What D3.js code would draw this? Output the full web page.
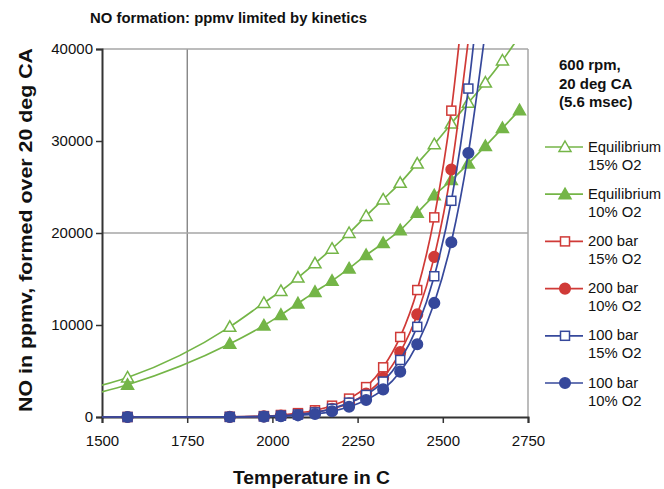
<!DOCTYPE html>
<html><head><meta charset="utf-8">
<script src="https://cdn.jsdelivr.net/npm/d3@7"></script>
<style>
body{margin:0;background:#fff;}
svg{font-family:"Liberation Sans",Arial,Helvetica,sans-serif;}
</style></head>
<body><svg id="c" width="664" height="489"></svg>
<script>
const temps = [1475,1575,1875,1975,2025,2075,2125,2175,2225,2275,2325,2375,2425,2475,2525,2575,2625,2675,2725];
const eq15 = [3200,4300,9800,12400,13700,15150,16700,18300,20000,21850,23650,25450,27550,29650,31900,34150,36350,38750,41400];
const eq10 = [2480,3500,7950,9950,11100,12350,13600,14800,16150,17600,18900,20300,22200,24100,25750,27550,29450,31400,33350];
const b200_15 = [0,0,20,100,220,420,730,1230,2000,3250,5400,8700,13800,21700,33300,50500,null,null,null];
const b200_10 = [0,0,10,70,150,290,520,900,1500,2550,4250,7050,11150,17400,26900,41000,null,null,null];
const b100_15 = [0,0,10,60,140,270,500,900,1560,2400,3850,6200,9800,15300,23500,35700,53000,null,null];
const b100_10 = [0,0,5,40,90,180,330,620,1120,1850,3000,4930,7900,12400,19000,28700,42000,null,null];
const xTicks = [1500,1750,2000,2250,2500,2750];
const yTicks = [0,10000,20000,30000,40000];
const seriesNames = [["Equilibrium","15% O2"],["Equilibrium","10% O2"],["200 bar","15% O2"],["200 bar","10% O2"],["100 bar","15% O2"],["100 bar","10% O2"]];
const noteLines = ["600 rpm,","20 deg CA","(5.6 msec)"];

const green="#74b547", red="#d03a37", blue="#36489b";
const series = [
  {vals:eq15, color:green, shape:"tri", filled:false},
  {vals:eq10, color:green, shape:"tri", filled:true},
  {vals:b200_15, color:red, shape:"sq", filled:false},
  {vals:b200_10, color:red, shape:"circ", filled:true},
  {vals:b100_15, color:blue, shape:"sq", filled:false},
  {vals:b100_10, color:blue, shape:"circ", filled:true}
];

const svg = d3.select("#c");
const L=102,R=528,T=49,B=417;
const x = d3.scaleLinear().domain([1500,2750]).range([L,R]);
const y = d3.scaleLinear().domain([0,40000]).range([B,T]);

svg.append("defs").append("clipPath").attr("id","clip")
  .append("rect").attr("x",L).attr("y",44).attr("width",R-L+10).attr("height",B-44+12);

// gridlines
svg.append("line").attr("x1",x(1750)).attr("x2",x(1750)).attr("y1",T).attr("y2",B).attr("stroke","#555").attr("stroke-width",1);
[20000,40000].forEach(v=>svg.append("line").attr("x1",L).attr("x2",R).attr("y1",y(v)).attr("y2",y(v)).attr("stroke","#a6a6a6").attr("stroke-width",1.5));
svg.append("line").attr("x1",R).attr("x2",R).attr("y1",T).attr("y2",B).attr("stroke","#a6a6a6").attr("stroke-width",1.5);

// axes
const ya = svg.append("g").attr("transform",`translate(${L},0)`)
  .call(d3.axisLeft(y).tickValues(yTicks).tickFormat(d3.format("d")).tickSize(6).tickPadding(3));
const xa = svg.append("g").attr("transform",`translate(0,${B})`)
  .call(d3.axisBottom(x).tickValues(xTicks).tickFormat(d3.format("d")).tickSize(6).tickPadding(12));
[ya,xa].forEach(g=>{
  g.select(".domain").attr("stroke","#333").attr("stroke-width",2);
  g.selectAll(".tick line").attr("stroke","#333").attr("stroke-width",1.5);
  g.selectAll("text").attr("font-size",15).attr("fill","#111").attr("font-family","Liberation Sans, Arial, sans-serif");
});

const plot = svg.append("g").attr("clip-path","url(#clip)");
const line = d3.line().defined(d=>d[1]!=null).x(d=>x(d[0])).y(d=>y(d[1])).curve(d3.curveMonotoneX);

function marker(g, shape, filled, color, cx, cy){
  let m;
  if(shape==="tri"){
    const s=6;
    m=g.append("path").attr("d",`M${cx},${cy-s}L${cx+s},${cy+s*0.75}L${cx-s},${cy+s*0.75}Z`);
  } else if(shape==="sq"){
    const s=4.5;
    m=g.append("rect").attr("x",cx-s).attr("y",cy-s).attr("width",2*s).attr("height",2*s);
  } else {
    m=g.append("circle").attr("cx",cx).attr("cy",cy).attr("r",5.3);
  }
  m.attr("fill",filled?color:"#fff").attr("stroke",color).attr("stroke-width",1.5);
}

series.forEach(s=>{
  const pts = temps.map((t,i)=>[t,s.vals[i]]).filter(d=>d[1]!=null);
  plot.append("path").datum(pts).attr("d",line).attr("fill","none").attr("stroke",s.color).attr("stroke-width",1.7);
  const mg = plot.append("g");
  pts.forEach(p=>{ if(y(p[1])>=44) marker(mg,s.shape,s.filled,s.color,x(p[0]),y(p[1])); });
});

// titles
svg.append("text").attr("x",228.5).attr("y",22.5).attr("text-anchor","middle").attr("font-size",15.5).attr("font-weight","bold").attr("fill","#111")
  .attr("textLength",277).attr("lengthAdjust","spacingAndGlyphs").text("NO formation: ppmv limited by kinetics");
svg.append("text").attr("x",311.5).attr("y",484).attr("text-anchor","middle").attr("font-size",17.5).attr("font-weight","bold").attr("fill","#111")
  .attr("textLength",157).attr("lengthAdjust","spacingAndGlyphs").text("Temperature in C");
svg.append("text").attr("transform","translate(32,230) rotate(-90)").attr("text-anchor","middle").attr("font-size",18).attr("font-weight","bold").attr("fill","#111")
  .attr("textLength",364).attr("lengthAdjust","spacingAndGlyphs").text("NO in ppmv, formed over 20 deg CA");

// legend
noteLines.forEach((t,i)=>svg.append("text").attr("x",559).attr("y",70+i*18.5).attr("font-size",15).attr("font-weight","bold").attr("fill","#111").text(t));
series.forEach((s,i)=>{
  const ly = 147+i*47.2;
  const g = svg.append("g");
  g.append("line").attr("x1",545).attr("x2",583).attr("y1",ly).attr("y2",ly).attr("stroke",s.color).attr("stroke-width",1.7);
  marker(g,s.shape,s.filled,s.color,565,ly);
  g.append("text").attr("x",588).attr("y",ly+4.5).attr("font-size",14.8).attr("fill","#111").text(seriesNames[i][0]);
  g.append("text").attr("x",588).attr("y",ly+22.5).attr("font-size",14.8).attr("fill","#111").text(seriesNames[i][1]);
});
</script></body></html>
